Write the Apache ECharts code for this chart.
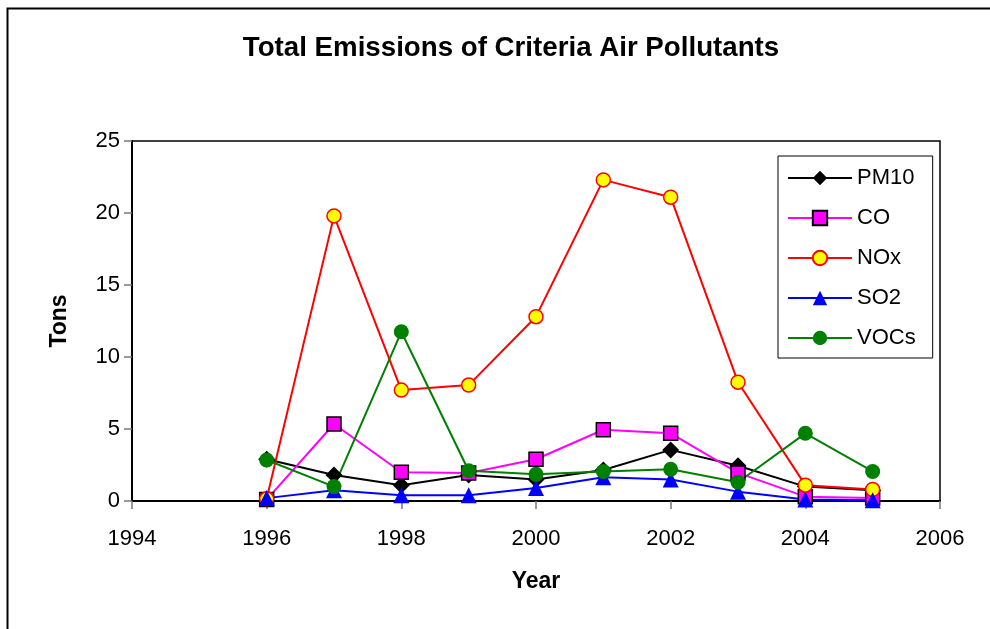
<!DOCTYPE html>
<html>
<head>
<meta charset="utf-8">
<script src="https://cdn.jsdelivr.net/npm/echarts@6/dist/echarts.min.js"></script>
<style>
html,body{margin:0;padding:0;background:#fff;}
#c{width:990px;height:629px;}
</style>
</head>
<body>
<div id="c"></div>
<script>
var years = [1996, 1997, 1998, 1999, 2000, 2001, 2002, 2003, 2004, 2005];
var pm10 = [2.9, 1.8, 1.1, 1.8, 1.5, 2.15, 3.55, 2.45, 1.0, 0.75];
var co   = [0.1, 5.35, 2.0, 1.95, 2.9, 4.95, 4.7, 1.95, 0.3, 0.2];
var nox  = [0.15, 19.8, 7.7, 8.05, 12.8, 22.3, 21.1, 8.25, 1.1, 0.8];
var so2  = [0.2, 0.75, 0.4, 0.4, 0.9, 1.65, 1.5, 0.65, 0.1, 0.05];
var vocs = [2.85, 1.0, 11.75, 2.1, 1.85, 2.05, 2.2, 1.3, 4.7, 2.05];
var xTicks = [1994, 1996, 1998, 2000, 2002, 2004, 2006];
var yTicks = [0, 5, 10, 15, 20, 25];

var FONT = '"Liberation Sans", Arial, sans-serif';
function pairs(v) { return years.map(function (y, i) { return [y, v[i]]; }); }

var chart = echarts.init(document.getElementById('c'), null, {renderer: 'canvas'});
chart.setOption({
  animation: false,
  backgroundColor: '#fff',
  textStyle: {fontFamily: FONT},
  title: {
    text: 'Total Emissions of Criteria Air Pollutants',
    left: 506, top: 29, textAlign: 'center',
    textStyle: {fontFamily: FONT, fontSize: 27.7, fontWeight: 'bold', color: '#000'}
  },
  graphic: [{
    type: 'rect', silent: true,
    shape: {x: 7.5, y: 8.5, width: 1100, height: 800},
    style: {fill: 'none', stroke: '#000', lineWidth: 2}
  }],
  grid: {
    left: 132, top: 141, right: 50, bottom: 128,
    show: true, borderColor: '#000', borderWidth: 1.5, backgroundColor: 'transparent'
  },
  legend: {
    orient: 'vertical',
    left: 778, top: 156,
    itemWidth: 64, itemHeight: 18, itemGap: 18,
    padding: [11, 17, 9, 9],
    borderColor: '#000', borderWidth: 1,
    backgroundColor: '#fff',
    textStyle: {fontFamily: FONT, fontSize: 22, color: '#000'},
    data: ['PM10', 'CO', 'NOx', 'SO2', 'VOCs']
  },
  xAxis: {
    type: 'value', min: xTicks[0], max: xTicks[xTicks.length - 1], interval: 2,
    name: 'Year', nameLocation: 'middle', nameGap: 69,
    nameTextStyle: {fontFamily: FONT, fontSize: 23, fontWeight: 'bold', color: '#000'},
    axisLine: {show: true, onZero: false, lineStyle: {color: '#000', width: 2}},
    axisTick: {show: true, length: 8, lineStyle: {color: '#777', width: 1.5}},
    axisLabel: {fontFamily: FONT, fontSize: 22, color: '#000', margin: 27,
      formatter: function (v) { return xTicks.indexOf(v) >= 0 ? String(v) : ''; }},
    splitLine: {show: false}
  },
  yAxis: {
    type: 'value', min: yTicks[0], max: yTicks[yTicks.length - 1], interval: 5,
    name: 'Tons', nameLocation: 'middle', nameGap: 61, nameRotate: 90,
    nameTextStyle: {fontFamily: FONT, fontSize: 23, fontWeight: 'bold', color: '#000'},
    axisLine: {show: true, lineStyle: {color: '#000', width: 2}},
    axisTick: {show: true, length: 8, lineStyle: {color: '#777', width: 1.5}},
    axisLabel: {fontFamily: FONT, fontSize: 22, color: '#000', margin: 12},
    splitLine: {show: false}
  },
  series: [
    {name: 'PM10', type: 'line', data: pairs(pm10), symbol: 'diamond', symbolSize: 17,
     lineStyle: {color: '#000', width: 2}, itemStyle: {color: '#000', borderColor: '#000', borderWidth: 0}},
    {name: 'CO', type: 'line', data: pairs(co), symbol: 'rect', symbolSize: 14,
     lineStyle: {color: '#FF00FF', width: 2}, itemStyle: {color: '#FF00FF', borderColor: '#000', borderWidth: 1.5}},
    {name: 'NOx', type: 'line', data: pairs(nox), symbol: 'circle', symbolSize: 14,
     lineStyle: {color: '#FF0000', width: 2}, itemStyle: {color: '#FFFF00', borderColor: '#FF0000', borderWidth: 1.5}},
    {name: 'SO2', type: 'line', data: pairs(so2), symbol: 'triangle', symbolSize: 16,
     lineStyle: {color: '#0000FF', width: 2}, itemStyle: {color: '#0000FF', borderWidth: 0}},
    {name: 'VOCs', type: 'line', data: pairs(vocs), symbol: 'circle', symbolSize: 15,
     lineStyle: {color: '#008000', width: 2}, itemStyle: {color: '#008000', borderWidth: 0}}
  ]
});
</script>
</body>
</html>
